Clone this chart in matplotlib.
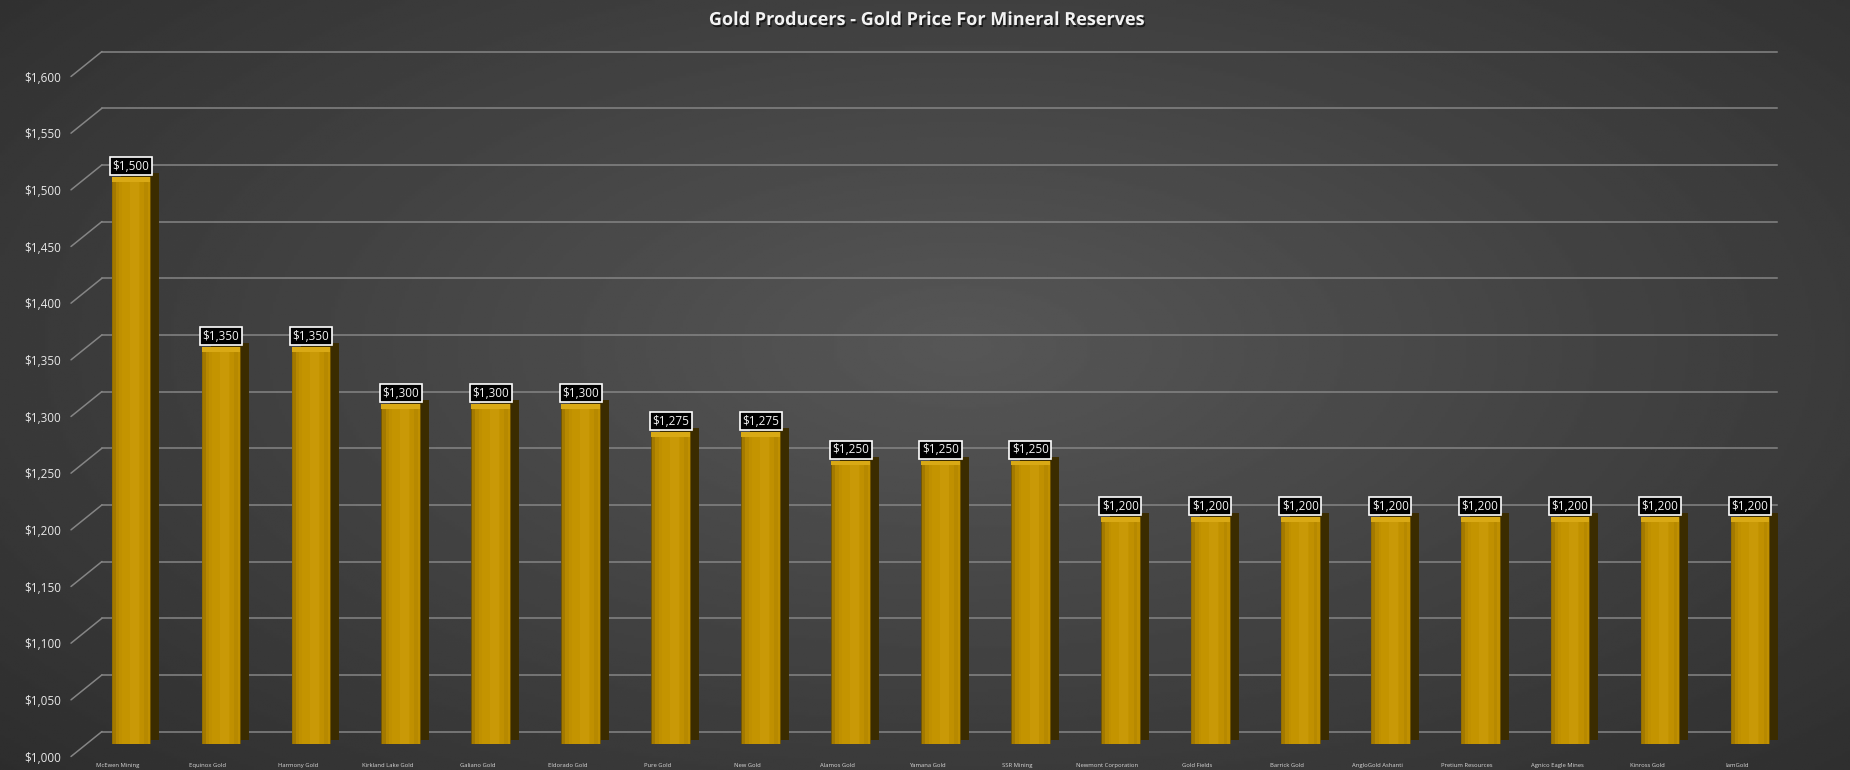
import numpy as np
import matplotlib.pyplot as plt
import matplotlib.transforms as mtransforms
import matplotlib.patheffects as pe

# chart data
companies = ["McEwen Mining", "Equinox Gold", "Harmony Gold", "Kirkland Lake Gold",
             "Galiano Gold", "Eldorado Gold", "Pure Gold", "New Gold", "Alamos Gold",
             "Yamana Gold", "SSR Mining", "Newmont Corporation", "Gold Fields",
             "Barrick Gold", "AngloGold Ashanti", "Pretium Resources",
             "Agnico Eagle Mines", "Kinross Gold", "IamGold"]
prices = [1500, 1350, 1350, 1300, 1300, 1300, 1275, 1275, 1250, 1250, 1250,
          1200, 1200, 1200, 1200, 1200, 1200, 1200, 1200]
yticks = list(range(1000, 1601, 50))
title = "Gold Producers - Gold Price For Mineral Reserves"

W, H, DPI = 1850, 770, 100
fig = plt.figure(figsize=(W / DPI, H / DPI), dpi=DPI)

# dark radial background
bg = fig.add_axes([0, 0, 1, 1])
yy, xx = np.mgrid[0:1:300j, 0:1:600j]
r = np.sqrt(((xx - 0.52) / 0.7) ** 2 + ((yy - 0.45) / 0.8) ** 2)
shade = np.clip(0.34 - 0.16 * r, 0.12, 0.4)
bg.imshow(shade, cmap="gray", vmin=0, vmax=1, aspect="auto", extent=[0, 1, 0, 1])
bg.axis("off")


def shift(dx, dy):
    """pixel offset as a transform"""
    return mtransforms.ScaledTranslation(dx / DPI, dy / DPI, fig.dpi_scale_trans)


ax = fig.add_axes([86 / W, 26 / H, 1700 / W, 680 / H])
ax.patch.set_alpha(0)
for s in ax.spines.values():
    s.set_visible(False)
ax.set_ylim(1000, 1600)
ax.set_xlim(-0.5, len(companies) - 0.6)

# back wall gridlines with the 3D floor offset
back = ax.get_yaxis_transform() + shift(16, 12.5)
front = ax.get_yaxis_transform() + shift(-15, -12.5)
grid_col = "#858585"
for v in yticks:
    ax.plot([0, 0.985], [v, v], transform=back, color=grid_col, lw=1.1,
            clip_on=False, zorder=0)
    ax.annotate("", xy=(0, v), xycoords=back, xytext=(0, v), textcoords=front,
                arrowprops=dict(arrowstyle="-", color=grid_col, lw=1.1,
                                shrinkA=0, shrinkB=0), zorder=0)

x = np.arange(len(companies))
heights = np.array(prices) - 1000
bw = 0.43

# side face, front face and a soft cylinder sheen
ax.bar(x, heights, bottom=1000, width=bw, color="#3b2c00", lw=0,
       transform=ax.transData + shift(9, 4), zorder=2)
ax.bar(x, heights, bottom=1000, width=bw, color="#c09000", edgecolor="#6e5200",
       lw=0.6, zorder=3)
for off, wd, col, al in [(-0.19, 0.04, "#9c7400", 0.8), (-0.15, 0.04, "#b08300", 0.5),
                         (0.0, 0.2, "#c99900", 0.45), (0.04, 0.1, "#d2a314", 0.4),
                         (0.17, 0.04, "#b08300", 0.5)]:
    ax.bar(x + off, heights, bottom=1000, width=wd, color=col, alpha=al,
           lw=0, zorder=3)
ax.bar(x, 4, bottom=np.array(prices) - 4, width=bw, color="#d9a915", lw=0, zorder=4)

for xi, p in zip(x, prices):
    ax.annotate(f"${p:,}", (xi, p), textcoords="offset pixels", xytext=(0, 11),
                ha="center", va="center", fontsize=8.5, color="#f4f4f4",
                family="Open Sans", zorder=5,
                bbox=dict(boxstyle="square,pad=0.22", fc="black", ec="white", lw=1.2))

ax.set_yticks(yticks)
ax.set_yticklabels([f"${v:,}" for v in yticks], family="Open Sans")
ax.tick_params(axis="y", length=0, pad=7, labelsize=8.5, labelcolor="#e8e8e8")
for lab in ax.get_yticklabels():
    lab.set_transform(lab.get_transform() + shift(-15, -12.5))

ax.set_xticks(x)
ax.set_xticklabels(companies, family="Open Sans")
ax.tick_params(axis="x", length=0, pad=14, labelsize=4.2, labelcolor="#d8d8d8")
for lab in ax.get_xticklabels():
    lab.set_transform(lab.get_transform() + shift(-13, 0))

fig.text(0.5, 1 - 20 / H, title, ha="center", va="center", fontsize=13,
         fontweight="bold", color="#f2f2f2", family="Open Sans",
         path_effects=[pe.withSimplePatchShadow(offset=(1, -1.5), shadow_rgbFace="black",
                                                alpha=0.6)])

fig.savefig("out.png", dpi=DPI)
